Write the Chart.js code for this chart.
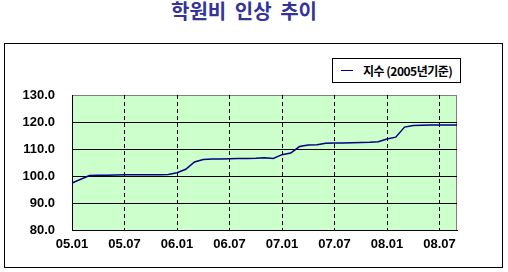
<!DOCTYPE html>
<html>
<head>
<meta charset="utf-8">
<script src="https://cdn.jsdelivr.net/npm/chart.js@4"></script>
<style>
    body { margin: 0; background: #fff; }
    #wrap { position: relative; width: 508px; height: 272px; overflow: hidden; }
    #title {
        position: absolute; left: 134px; top: -2px; width: 220px; text-align: center;
        font-family: "Noto Sans CJK KR", sans-serif; font-weight: bold; font-size: 20px;
        word-spacing: 4px; color: #333399; line-height: 26px;
    }
    #frame {
        position: absolute; left: 4px; top: 43px; width: 497px; height: 223px;
        border: 1px solid #000;
    }
    #legend {
        position: absolute; left: 332px; top: 58px; width: 127px; height: 23px;
        border: 1px solid #000; background: #fff;
        font-family: "Noto Sans CJK KR", sans-serif; font-weight: bold; font-size: 12px;
        line-height: 23px; white-space: nowrap;
    }
    #legend .swatch {
        position: absolute; left: 8px; top: 11px; width: 12px; height: 0;
        border-top: 1.5px solid #000080;
    }
    #legend .text { position: absolute; left: 30px; top: 0; letter-spacing: -0.5px; }
    canvas { position: absolute; left: 0; top: 0; }
</style>
</head>
<body>
<div id="wrap">
    <div id="title">학원비 인상 추이</div>
    <div id="frame"></div>
    <canvas id="chart" width="508" height="272"></canvas>
    <div id="legend"></div>
</div>
<script>
// =========================
// Data
// =========================
const seriesLabel = '지수 (2005년기준)';

// monthly labels 05.01 .. 08.09
const months = [
    '05.01', '05.02', '05.03', '05.04', '05.05', '05.06', '05.07', '05.08', '05.09', '05.10', '05.11', '05.12',
    '06.01', '06.02', '06.03', '06.04', '06.05', '06.06', '06.07', '06.08', '06.09', '06.10', '06.11', '06.12',
    '07.01', '07.02', '07.03', '07.04', '07.05', '07.06', '07.07', '07.08', '07.09', '07.10', '07.11', '07.12',
    '08.01', '08.02', '08.03', '08.04', '08.05', '08.06', '08.07', '08.08', '08.09'
];

// labels shown on the x axis
const shownTicks = ['05.01', '05.07', '06.01', '06.07', '07.01', '07.07', '08.01', '08.07'];

const indexValues = [
    97.4, 98.8, 100.2, 100.3, 100.3, 100.4, 100.5, 100.5, 100.5, 100.5, 100.5, 100.6,
    101.2, 102.5, 105.2, 106.1, 106.3, 106.3, 106.4, 106.5, 106.5, 106.6, 106.8, 106.5,
    107.9, 108.5, 110.9, 111.5, 111.6, 112.1, 112.2, 112.2, 112.3, 112.4, 112.5, 112.7,
    113.7, 114.4, 118.1, 118.7, 118.8, 118.9, 118.9, 118.9, 118.9
];

const yMin = 80, yMax = 130, yStep = 10;

// =========================
// Plot area background
// =========================
const plotBackground = {
    id: 'plotBackground',
    beforeDraw(chart) {
        const { ctx, chartArea: a } = chart;
        ctx.save();
        ctx.fillStyle = '#ccffcc';
        ctx.fillRect(a.left, a.top, a.right - a.left, a.bottom - a.top);
        ctx.strokeStyle = '#808080';
        ctx.lineWidth = 1;
        ctx.strokeRect(a.left + 0.5, a.top + 0.5, a.right - a.left - 1, a.bottom - a.top);
        ctx.restore();
    }
};

const tickFont = { family: '"Liberation Sans", Arial, sans-serif', size: 13, weight: 'bold' };

const ctx = document.getElementById('chart').getContext('2d');
const chart = new Chart(ctx, {
    type: 'line',
    data: {
        labels: months,
        datasets: [{
            label: seriesLabel,
            data: indexValues,
            borderColor: '#000080',
            borderWidth: 1.5,
            pointRadius: 0,
            tension: 0,
            fill: false
        }]
    },
    options: {
        responsive: false,
        animation: false,
        layout: { padding: { left: 0, right: 51, top: 95, bottom: 0 } },
        plugins: {
            legend: { display: false },
            tooltip: { enabled: false }
        },
        scales: {
            x: {
                offset: false,
                afterFit: (s) => { s.height = 42; },
                ticks: {
                    autoSkip: false,
                    maxRotation: 0,
                    color: '#000',
                    font: tickFont,
                    padding: 7,
                    callback: function (v, i) {
                        const lbl = months[i];
                        return shownTicks.includes(lbl) ? lbl : '';
                    }
                },
                grid: {
                    drawTicks: false,
                    color: (c) => {
                        const lbl = months[c.index];
                        if (c.index === 0 || !shownTicks.includes(lbl)) return 'rgba(0,0,0,0)';
                        return '#000';
                    },
                    lineWidth: 1
                },
                border: { display: true, color: '#000', width: 1, dash: [4, 3] }
            },
            y: {
                min: yMin,
                max: yMax,
                afterFit: (s) => { s.width = 72; },
                ticks: {
                    stepSize: yStep,
                    color: '#000',
                    font: tickFont,
                    padding: 17,
                    callback: (v) => v.toFixed(1)
                },
                grid: {
                    drawTicks: false,
                    color: (c) => (c.tick && c.tick.value === yMax ? 'rgba(0,0,0,0)' : '#000'),
                    lineWidth: 1
                },
                border: { display: true, color: '#000', width: 1 }
            }
        }
    },
    plugins: [plotBackground]
});

// Legend built from the dataset
const legend = document.getElementById('legend');
chart.data.datasets.forEach(ds => {
    legend.innerHTML = `<span class="swatch" style="border-top-color:${ds.borderColor}"></span><span class="text">${ds.label}</span>`;
});
</script>
</body>
</html>
